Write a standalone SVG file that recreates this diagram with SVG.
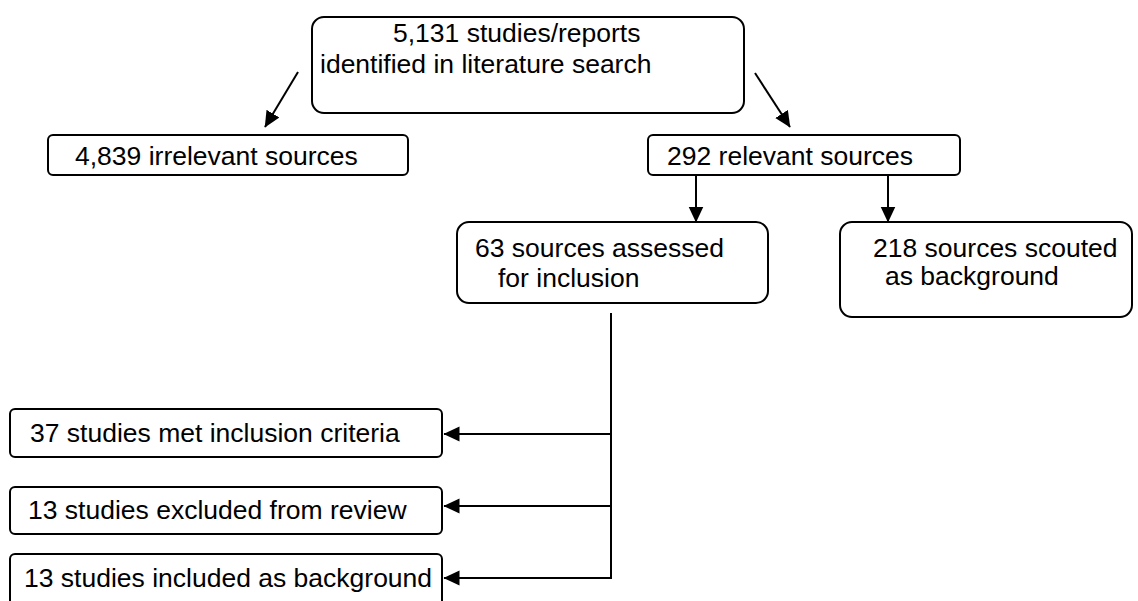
<svg xmlns="http://www.w3.org/2000/svg" width="1138" height="601" viewBox="0 0 1138 601">
<style>
.box{fill:#fff;stroke:#000;stroke-width:2}
.t{font-family:"Liberation Sans",Arial,sans-serif;font-size:26.5px;fill:#000}
.c{fill:none;stroke:#000;stroke-width:2}
</style>
<defs>
<marker id="ah" markerUnits="userSpaceOnUse" markerWidth="18" markerHeight="17" refX="15.5" refY="7.5" orient="auto">
<path d="M0,0 L16,7.5 L0,15 z" fill="#000"/>
</marker>
</defs>
<rect width="1138" height="601" fill="#fff"/>
<g id="connectors">
<line class="c" x1="298" y1="72" x2="265" y2="127" marker-end="url(#ah)"/>
<line class="c" x1="755" y1="73" x2="790" y2="127" marker-end="url(#ah)"/>
<line class="c" x1="696" y1="175" x2="696" y2="222" marker-end="url(#ah)"/>
<line class="c" x1="888" y1="175" x2="888" y2="222" marker-end="url(#ah)"/>
<line class="c" x1="611" y1="313" x2="611" y2="579"/>
<line class="c" x1="612" y1="434" x2="444" y2="434" marker-end="url(#ah)"/>
<line class="c" x1="612" y1="506" x2="444" y2="506" marker-end="url(#ah)"/>
<line class="c" x1="612" y1="578" x2="444" y2="578" marker-end="url(#ah)"/>
</g>
<g id="n-search">
<rect class="box" x="312" y="17" width="432" height="96" rx="12"/>
<text class="t" x="393" y="42">5,131 studies/reports</text>
<text class="t" x="320" y="73">identified in literature search</text>
</g>
<g id="n-irrelevant">
<rect class="box" x="48" y="135" width="360" height="40" rx="5"/>
<text class="t" x="75" y="165">4,839 irrelevant sources</text>
</g>
<g id="n-relevant">
<rect class="box" x="648" y="135" width="312" height="40" rx="5"/>
<text class="t" x="667" y="165">292 relevant sources</text>
</g>
<g id="n-assessed">
<rect class="box" x="457" y="222" width="311" height="81" rx="12"/>
<text class="t" x="475" y="257">63 sources assessed</text>
<text class="t" x="498" y="287">for inclusion</text>
</g>
<g id="n-scouted">
<rect class="box" x="840" y="222" width="292" height="95" rx="12"/>
<text class="t" x="873" y="257">218 sources scouted</text>
<text class="t" x="885" y="285">as background</text>
</g>
<g id="n-met">
<rect class="box" x="10" y="409" width="432" height="48" rx="5"/>
<text class="t" x="30" y="442">37 studies met inclusion criteria</text>
</g>
<g id="n-excluded">
<rect class="box" x="10" y="487" width="432" height="47" rx="5"/>
<text class="t" x="28" y="519">13 studies excluded from review</text>
</g>
<g id="n-background">
<rect class="box" x="10" y="554" width="432" height="62" rx="5"/>
<text class="t" x="24" y="587">13 studies included as background</text>
</g>
</svg>
